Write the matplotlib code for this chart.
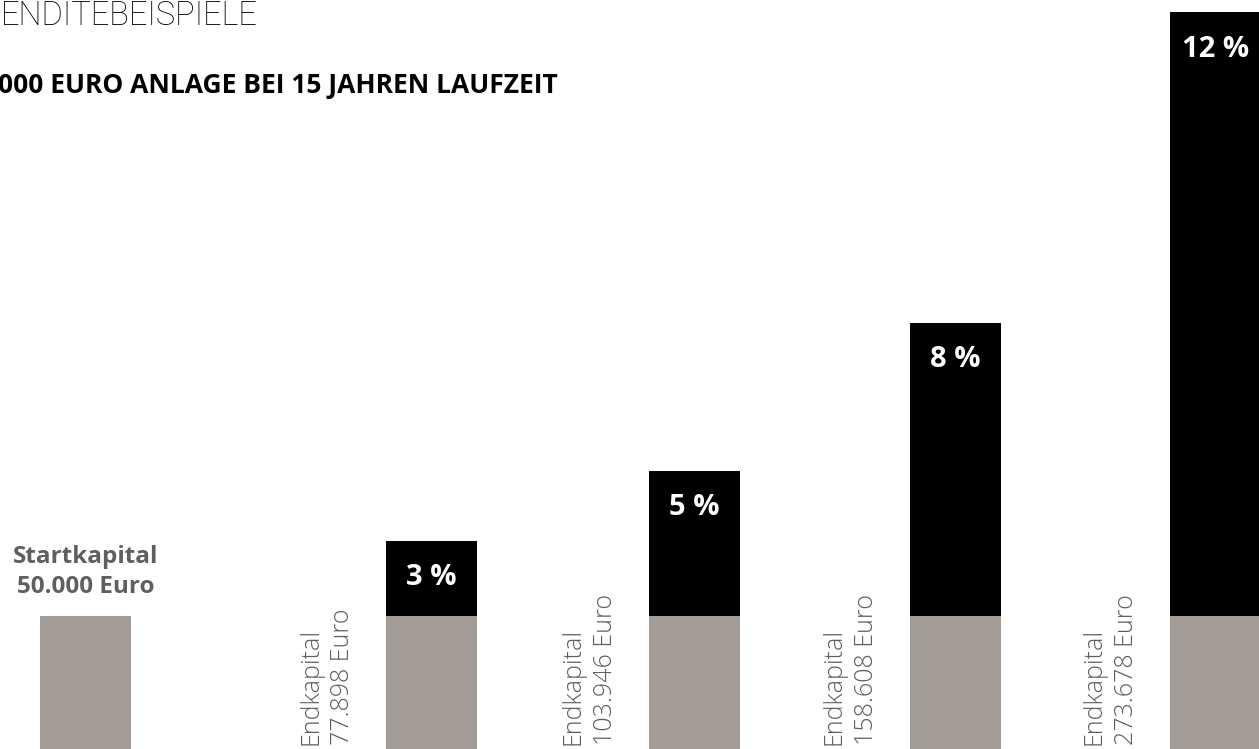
import matplotlib
matplotlib.use("Agg")
import matplotlib.pyplot as plt
from matplotlib import font_manager as fm

# ---- data ----
start_label = ["Startkapital", "50.000 Euro"]
start_capital = 50000
rates = ["3 %", "5 %", "8 %", "12 %"]
end_capital = [77898, 103946, 158608, 273678]
end_labels = ["77.898 Euro", "103.946 Euro", "158.608 Euro", "273.678 Euro"]
end_prefix = "Endkapital"
title = "ENDITEBEISPIELE"
subtitle = "000 EURO ANLAGE BEI 15 JAHREN LAUFZEIT"

# ---- style / layout ----
W, H, DPI = 1259, 749, 100
GRAY = "#a39b95"
TXT_GRAY = "#5e5e5e"
LBL_GRAY = "#5f5f5f"
BAR_W = 91
start_x = 85.3
bar_x = [431.7, 694.5, 955.5, 1215.5]

names = {f.name for f in fm.fontManager.ttflist}
def pick(*c):
    for n in c:
        if n in names:
            return n
    return "DejaVu Sans"
SANS = pick("Open Sans", "Lato", "Noto Sans")

fig = plt.figure(figsize=(W / DPI, H / DPI), dpi=DPI)
ax = fig.add_axes([0, 0, 1, 1])
ax.set_xlim(0, W)
ax.set_ylim(889, 278193)
ax.axis("off")

px2pt = 72 / DPI

# start bar
ax.bar([start_x], [start_capital], width=BAR_W, color=GRAY, linewidth=0)
ax.annotate("\n".join(start_label), xy=(start_x, start_capital),
            xytext=(0, 23.5 * px2pt), textcoords="offset points",
            ha="center", va="baseline", fontsize=17.5, fontweight="bold",
            color=LBL_GRAY, family=SANS, linespacing=1.3)

# stacked bars
base = [start_capital] * len(end_capital)
gain = [e - start_capital for e in end_capital]
ax.bar(bar_x, base, width=BAR_W, color=GRAY, linewidth=0)
ax.bar(bar_x, gain, bottom=base, width=BAR_W, color="black", linewidth=0)

for x, e, r, lab in zip(bar_x, end_capital, rates, end_labels):
    ax.annotate(r, xy=(x, e), xytext=(0, -37 * px2pt), textcoords="offset points",
                ha="center", va="center", color="white", fontsize=21,
                fontweight="bold", family=SANS)
    left = x - BAR_W / 2
    for txt, off in ((end_prefix, 69), (lab, 37)):
        ax.annotate(txt, xy=(left, 0), xytext=(-off * px2pt, 6 * px2pt),
                    textcoords="offset points", rotation=90,
                    rotation_mode="anchor", ha="left", va="baseline",
                    fontsize=18, fontweight="light", color=TXT_GRAY,
                    family=SANS, annotation_clip=False)

fig.text(-2 / W, 1 - 93 / H, subtitle, ha="left", va="baseline",
         fontsize=19, fontweight="bold", color="black", family=SANS)
fig.text(1 / W, 1 - 25 / H, title, ha="left", va="baseline",
         fontsize=23.5, fontweight="light", color="black",
         family=pick("Roboto", "Open Sans"))

fig.savefig("out.png", dpi=DPI)
